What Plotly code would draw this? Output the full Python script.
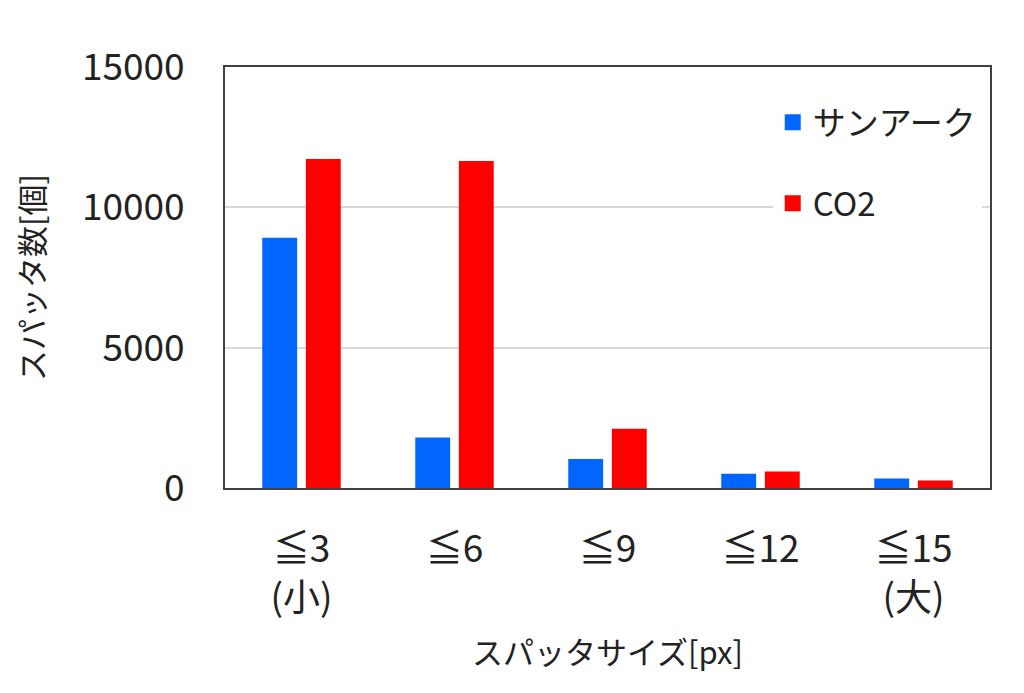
import plotly.graph_objects as go

categories = ["≦3<br>(小)", "≦6", "≦9", "≦12", "≦15<br>(大)"]
sunark = [8920, 1800, 1030, 510, 335]
co2 = [11720, 11650, 2115, 585, 265]
y_ticks = [0, 5000, 10000, 15000]
y_tick_labels = ["0", "5000", "10000", "15000"]
series_names = ["サンアーク", "CO2"]
series_colors = ["#0066FF", "#FF0000"]

FONT = "Noto Sans CJK JP, Noto Sans, sans-serif"

fig = go.Figure()
for name, vals, col in zip(series_names, [sunark, co2], series_colors):
    fig.add_trace(go.Bar(name=name, x=categories, y=vals,
                         marker=dict(color=col, line=dict(width=0)),
                         showlegend=False))
# legend entries (square swatches)
for i, (name, col) in enumerate(zip(series_names, series_colors)):
    fig.add_trace(go.Scatter(name=name, x=[None], y=[None], mode="markers",
                             marker=dict(symbol="square", size=22, color=col),
                             legendgroup=f"g{i}", showlegend=True))

fig.update_layout(
    width=1024, height=693,
    margin=dict(l=217, r=42, t=59, b=213),
    paper_bgcolor="white", plot_bgcolor="white",
    font=dict(family=FONT, size=32, color="#222222"),
    barmode="group", bargap=0.43, bargroupgap=0.2,
    showlegend=True,
    legend=dict(x=0.716, y=0.935, xanchor="left", yanchor="top",
                bgcolor="white", font=dict(size=33), itemsizing="trace",
                traceorder="grouped", tracegroupgap=35),
)
fig.update_xaxes(
    showline=True, mirror=True, linecolor="#404040", linewidth=2,
    ticks="", ticklabelstandoff=28,
    tickfont=dict(size=37),
    title=dict(text="スパッタサイズ[px]", font=dict(size=31), standoff=22),
)
fig.update_yaxes(
    range=[0, 15000], tickvals=y_ticks, ticktext=y_tick_labels,
    showline=True, mirror=True, linecolor="#404040", linewidth=2,
    showgrid=True, gridcolor="#D9D9D9", gridwidth=1.5,
    ticks="", ticklabelstandoff=31, zeroline=False,
    tickfont=dict(size=37),
    title=dict(text="スパッタ数[個]", font=dict(size=31), standoff=34),
)

fig.write_html("out.html")
